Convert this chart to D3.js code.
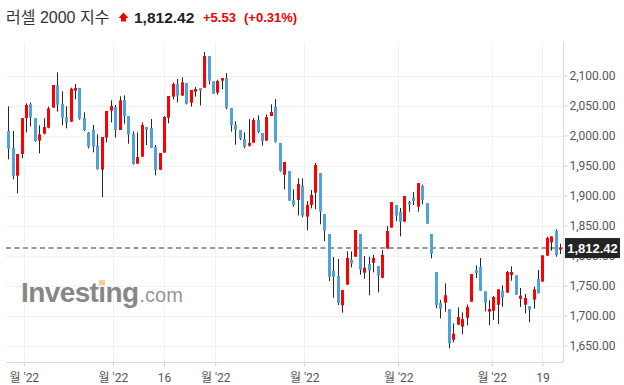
<!DOCTYPE html>
<html lang="ko">
<head>
<meta charset="UTF-8">
<title>러셀 2000 지수</title>
<style>
html,body{margin:0; width:100vw; height:100vh; overflow:hidden; background:#fff; font-family:Arial, "Liberation Sans", "Noto Sans CJK KR", sans-serif;}
svg{width:624px; height:385px; display:block;}
</style>
</head>
<body>
<svg></svg>
<script src="https://cdn.jsdelivr.net/npm/d3@7"></script>
<script>
// daily candles (red = up, blue = down)
const opens  = [2007.5,1979.1,1933.0,1969.1,2029.1,2051.9,2029.1,1991.4,2003.0,2013.0,2046.4,2082.5,2052.5,2030.8,2023.0,2074.7,2079.1,2029.1,2004.7,2009.1,1982.5,1943.0,1996.4,2041.4,2047.5,2009.1,2059.1,2032.5,2002.5,1953.0,1964.7,2014.1,2012.5,1980.8,1943.0,1971.4,2029.7,2064.7,2085.8,2066.4,2087.5,2054.7,2073.0,2079.1,2079.7,2132.5,2090.2,2071.4,2091.4,2095.8,2045.8,2017.5,2009.1,1994.1,1983.0,1988.0,2025.8,2004.1,1991.4,2032.5,2047.5,1987.5,1934.7,1940.8,1892.5,1892.5,1915.8,1864.7,1884.1,1904.7,1937.5,1869.1,1835.8,1774.1,1765.8,1716.9,1751.4,1793.0,1798.0,1835.8,1771.4,1785.8,1788.0,1782.5,1763.0,1811.4,1846.4,1884.1,1872.5,1856.4,1889.1,1895.8,1881.4,1915.8,1887.5,1835.8,1772.5,1720.8,1721.4,1710.8,1659.7,1684.7,1681.4,1696.4,1723.0,1775.8,1780.8,1740.2,1706.4,1708.0,1718.0,1740.8,1738.0,1767.5,1766.9,1728.0,1718.0,1715.8,1726.4,1760.8,1756.4,1799.7,1821.9,1840.8,1809.7];
const highs  = [2048.6,2007.5,1969.1,2029.1,2053.6,2055.2,2029.1,2016.9,2028.6,2048.0,2084.1,2105.2,2073.6,2048.6,2079.7,2085.8,2079.1,2038.6,2005.8,2017.5,2001.9,1997.5,2040.8,2058.6,2050.8,2065.2,2066.9,2032.5,2006.9,2005.2,2021.9,2014.1,2027.5,1984.1,1970.8,2032.5,2065.8,2088.0,2094.1,2096.9,2087.5,2075.8,2080.8,2079.1,2139.1,2132.5,2090.2,2093.0,2095.8,2104.1,2045.8,2023.6,2009.1,2005.2,2027.5,2029.1,2033.6,2004.1,2035.2,2051.9,2060.8,1987.5,1955.8,1940.8,1910.2,1928.6,1928.6,1890.8,1909.1,1954.1,1937.5,1869.1,1835.8,1797.5,1794.1,1742.5,1806.9,1806.9,1842.5,1835.8,1799.1,1798.0,1800.8,1782.5,1809.1,1849.1,1889.1,1884.1,1879.1,1899.1,1890.8,1905.8,1920.8,1918.0,1887.5,1835.8,1772.5,1725.8,1753.6,1710.8,1686.9,1713.6,1705.2,1718.0,1769.1,1783.6,1795.8,1740.2,1725.2,1732.5,1743.6,1750.2,1774.1,1781.9,1766.9,1745.8,1735.8,1715.8,1748.0,1775.8,1800.2,1831.4,1831.9,1843.6,1819.7];
const lows   = [1960.2,1926.9,1903.6,1961.9,2005.2,2015.2,1989.7,1970.2,2001.9,2011.9,2046.4,2039.7,2016.9,2011.9,2023.0,2060.2,2026.4,2007.5,1978.6,1971.9,1943.0,1896.9,1988.6,2021.9,1996.4,2009.1,2019.7,1986.4,1951.4,1953.0,1964.7,1984.1,1979.7,1933.6,1943.0,1971.4,2020.2,2060.2,2055.2,2066.4,2051.9,2048.0,2064.7,2050.2,2079.7,2085.2,2069.7,2068.0,2076.9,2043.6,2006.4,1984.7,1992.5,1978.6,1981.4,1988.0,2004.1,1983.0,1991.4,2032.5,1988.0,1939.7,1910.2,1891.4,1881.4,1866.9,1863.6,1841.9,1878.6,1876.9,1851.9,1824.1,1757.5,1729.7,1717.5,1704.7,1751.4,1780.2,1798.0,1768.0,1761.4,1733.6,1771.9,1738.6,1761.9,1811.4,1846.4,1857.5,1831.9,1856.4,1873.0,1884.1,1873.0,1885.2,1853.0,1795.2,1711.9,1695.2,1706.4,1645.2,1655.2,1684.7,1668.6,1683.6,1723.0,1762.5,1741.4,1706.9,1683.6,1692.5,1685.8,1714.7,1738.0,1758.0,1734.7,1714.1,1703.6,1688.6,1711.4,1736.9,1756.4,1799.7,1808.0,1798.0,1802.5];
const closes = [1978.0,1933.0,1969.1,2029.1,2050.8,2030.2,1990.8,2001.9,2014.1,2045.2,2084.1,2051.4,2029.7,2021.4,2078.0,2079.1,2028.0,2009.1,1981.4,1981.4,1944.1,1997.5,2040.8,2049.1,2009.1,2058.6,2032.5,2001.4,1952.5,1964.1,2017.5,2009.7,1979.7,1943.0,1970.8,2030.8,2065.8,2085.8,2066.4,2088.6,2053.0,2075.8,2077.5,2074.7,2132.5,2091.4,2069.7,2090.8,2095.8,2045.8,2017.5,2009.7,1994.7,1981.4,1987.5,2025.8,2005.8,1991.4,2030.8,2039.1,1989.7,1940.8,1955.8,1891.4,1884.1,1919.1,1866.4,1884.1,1900.8,1950.8,1873.0,1841.4,1764.7,1764.7,1720.8,1742.5,1795.8,1786.4,1842.5,1776.4,1779.7,1774.7,1795.8,1766.4,1800.8,1840.8,1889.1,1866.4,1856.4,1899.1,1884.7,1890.8,1920.8,1893.0,1853.0,1803.0,1717.5,1711.4,1733.6,1653.6,1669.7,1697.5,1694.1,1714.1,1769.1,1770.8,1741.4,1721.4,1710.8,1730.8,1743.6,1729.7,1772.5,1772.5,1734.7,1733.0,1729.1,1709.7,1743.6,1736.9,1800.2,1829.1,1831.9,1800.8,1812.42];

// x axis: positions in candle units, with their labels
const xTickPos    = [3.5, 23.5, 35, 46.5, 66.5, 87.6, 108.6, 120];
const xTickLabels = ["월 '22", "월 '22", "16", "월 '22", "월 '22", "월 '22", "월 '22", "19"];
const yTicks = [1650, 1700, 1750, 1800, 1850, 1900, 1950, 2000, 2050, 2100];

const lastPrice = 1812.42, change = 5.53, changePct = 0.31;

const UP = "#ff0000", DOWN = "#4fa2db", WICK = "#262626";
const fmt = d3.format(",.2f");

const svg = d3.select("svg");
const plotL = 6, plotR = 563, plotT = 42, plotB = 362;

const x = d3.scaleLinear().domain([-0.5, closes.length - 0.5]).range([plotL, 562.5]);
const y = d3.scaleLinear().domain([1650, 2100]).range([345.5, 75.5]);

// grid
svg.append("g").selectAll("line").data(yTicks).join("line")
  .attr("x1", plotL).attr("x2", plotR)
  .attr("y1", d => Math.round(y(d)) + .5).attr("y2", d => Math.round(y(d)) + .5)
  .attr("stroke", "#f1f1f1");
svg.append("g").selectAll("line").data(xTickPos).join("line")
  .attr("x1", d => Math.round(x(d)) + .5).attr("x2", d => Math.round(x(d)) + .5)
  .attr("y1", plotT).attr("y2", plotB)
  .attr("stroke", "#f1f1f1");

// watermark
const wm = svg.append("g").attr("opacity", .9);
const wmText = wm.append("text").attr("x", 21).attr("y", 302)
  .style("font-family", "'Liberation Sans', Arial, sans-serif")
  .style("font-weight", "bold").style("font-size", "28px").style("letter-spacing", "-0.6px")
  .attr("fill", "#7b7b7b").text("Investing");
const wmBox = wmText.node().getBBox();
wm.append("text").attr("x", wmBox.x + wmBox.width + 1).attr("y", 302)
  .style("font-family", "'Liberation Sans', Arial, sans-serif")
  .style("font-size", "20px").attr("fill", "#8a8a8a").text(".com");
const iExt = wmText.node().getExtentOfChar(6);
wm.append("rect").attr("x", iExt.x + iExt.width / 2 - 3.2).attr("y", 280)
  .attr("width", 6.4).attr("height", 5.5).attr("fill", "#f8c982");

// axes
const xAxis = svg.append("g").attr("transform", `translate(0,${plotB + .5})`)
  .call(d3.axisBottom(x).tickValues(xTickPos).tickFormat((d, i) => xTickLabels[i]).tickSize(4).tickSizeOuter(0));
xAxis.select(".domain").attr("d", `M${plotL},0H${plotR}`).attr("stroke", "#dcdcdc");
xAxis.selectAll(".tick line").attr("stroke", "#cfcfcf");
xAxis.selectAll(".tick text").attr("y", 11)
  .style("font-family", "Roboto, 'Noto Sans CJK KR', sans-serif").style("font-size", "12px").attr("fill", "#555");

const yAxis = svg.append("g").attr("transform", `translate(${plotR + .5},0)`)
  .call(d3.axisRight(y).tickValues(yTicks).tickFormat(fmt).tickSize(4).tickSizeOuter(0));
yAxis.select(".domain").attr("d", `M0,${plotT}V${plotB}`).attr("stroke", "#dcdcdc");
yAxis.selectAll(".tick line").attr("stroke", "#cfcfcf");
yAxis.selectAll(".tick text").attr("x", 6)
  .style("font-family", "Roboto, sans-serif").style("font-size", "12px").attr("fill", "#555");

// last price dashed line
svg.append("line").attr("x1", plotL).attr("x2", plotR)
  .attr("y1", y(lastPrice)).attr("y2", y(lastPrice))
  .attr("stroke", "#9a9a9a").attr("stroke-width", 2).attr("stroke-dasharray", "5,3.5");

// candles
const idx = d3.range(closes.length);
const candles = svg.append("g").selectAll("g").data(idx).join("g");
candles.append("line")
  .attr("x1", i => Math.round(x(i)) + .5).attr("x2", i => Math.round(x(i)) + .5)
  .attr("y1", i => y(highs[i])).attr("y2", i => y(lows[i]))
  .attr("stroke", WICK).attr("stroke-width", 1);
candles.append("rect")
  .attr("x", i => Math.round(x(i)) - 1)
  .attr("width", 3)
  .attr("y", i => y(Math.max(opens[i], closes[i])))
  .attr("height", i => Math.max(1.2, Math.abs(y(opens[i]) - y(closes[i]))))
  .attr("fill", i => closes[i] >= opens[i] ? UP : DOWN);

// price label on the axis
const py = y(lastPrice);
svg.append("rect").attr("x", 565).attr("y", py - 10).attr("width", 55).attr("height", 20).attr("fill", "#242424");
svg.append("text").attr("x", 592.5).attr("y", py + 4.5).attr("text-anchor", "middle")
  .style("font-family", "Arial, 'Liberation Sans', sans-serif").style("font-weight", "bold").style("font-size", "13px")
  .attr("fill", "#fff").text(fmt(lastPrice));

// header
const head = svg.append("g").style("font-family", "Arial, 'Liberation Sans', 'Noto Sans CJK KR', sans-serif");
head.append("text").attr("x", 6).attr("y", 23).style("font-size", "16px").attr("fill", "#333").text("러셀 2000 지수");
head.append("path").attr("d", "M123.5,12.5L128.5,18H126V21.5H121V18H118.5Z").attr("fill", "#f00000");
head.append("text").attr("x", 134).attr("y", 22.5).style("font-size", "15.5px").style("font-weight", "bold")
  .attr("fill", "#222").text(fmt(lastPrice));
head.append("text").attr("x", 203).attr("y", 22).style("font-size", "13px").style("font-weight", "bold")
  .attr("fill", "#f00000").text("+" + change.toFixed(2));
head.append("text").attr("x", 244).attr("y", 22).style("font-size", "13px").style("font-weight", "bold")
  .attr("fill", "#f00000").text(`(+${changePct.toFixed(2)}%)`);
</script>
</body>
</html>
